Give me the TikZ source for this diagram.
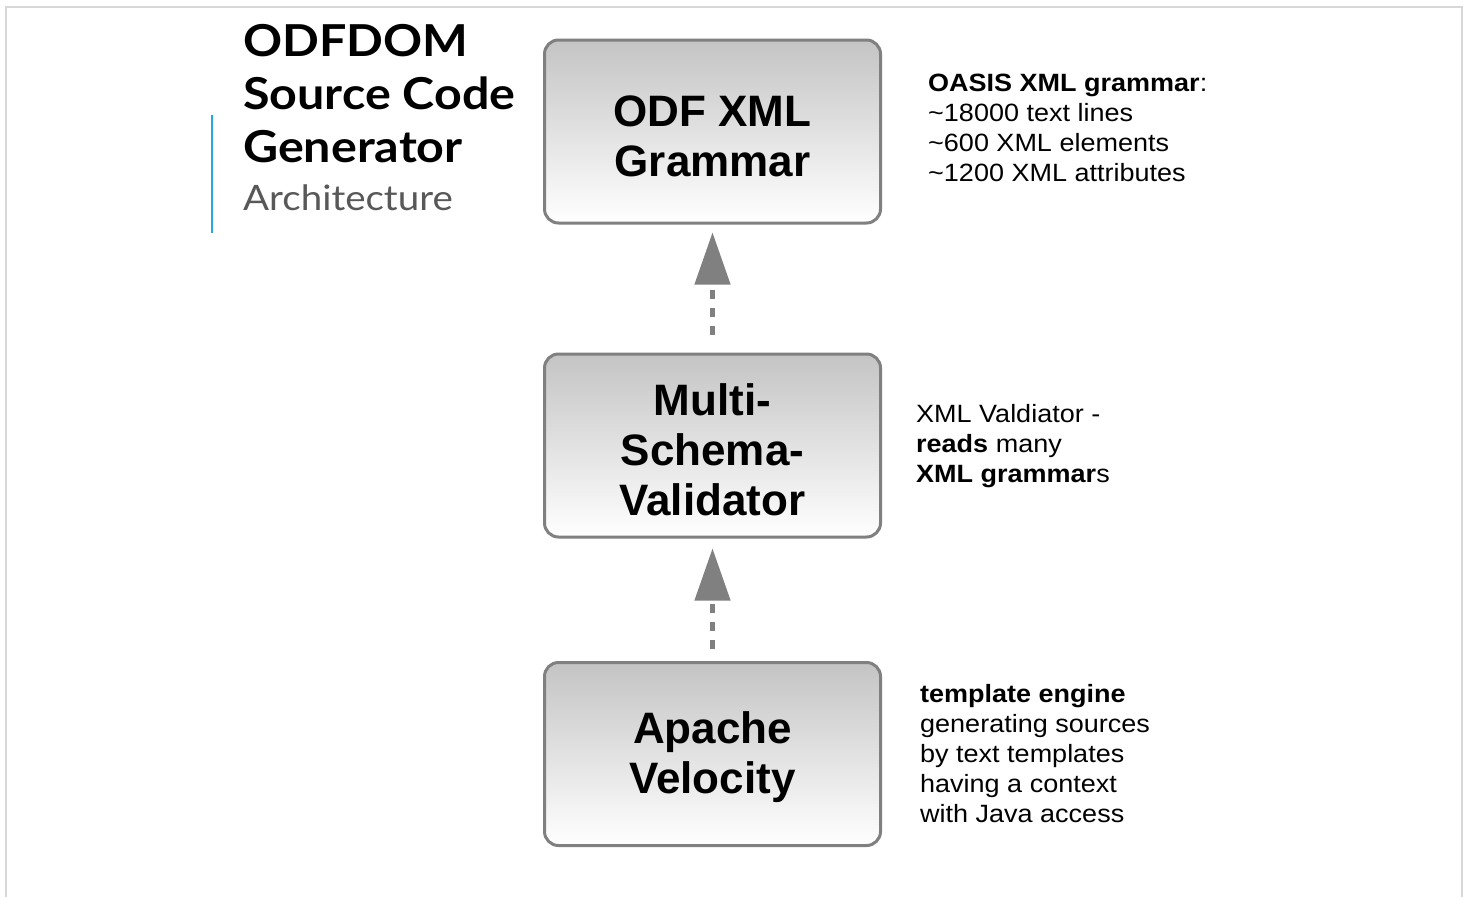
\documentclass[tikz,border=0pt]{standalone}
\usepackage{fontspec}
\setmainfont{Liberation Sans}
\newfontfamily\latowide{Lato}[FakeStretch=1.1]
\newfontfamily\notefont{Liberation Sans}[FakeStretch=1.08]
\usetikzlibrary{arrows.meta}
\definecolor{framegray}{RGB}{215,215,215}
\definecolor{accentblue}{RGB}{40,168,224}
\definecolor{subgray}{RGB}{88,88,88}
\definecolor{boxborder}{RGB}{128,128,128}
\definecolor{boxtop}{RGB}{196,196,196}
\definecolor{arrowgray}{RGB}{128,128,128}
\begin{document}
\begin{tikzpicture}[x=1pt,y=-1pt,
  box/.style={draw=boxborder, line width=3pt, rounded corners=14pt, top color=boxtop, bottom color=white,
    minimum width=336pt, minimum height=183pt, inner sep=0pt, align=center,
    font=\fontsize{44}{50}\selectfont\bfseries},
  note/.style={anchor=north west, inner sep=0pt, align=left, font=\notefont\fontsize{25}{30}\selectfont},
  dep/.style={draw=arrowgray, line width=4.5pt, dash pattern=on 9pt off 9pt,
    -{Triangle[width=35pt,length=52pt]}}
]
\useasboundingbox (0,0) rectangle (1469,897);
\fill[white] (0,0) rectangle (1469,897);
% slide frame
\draw[framegray, line width=1.5pt] (6,897) -- (6,7) -- (1462,7) -- (1462,897);
% accent line
\draw[accentblue, line width=2pt] (212,115) -- (212,233);
% title
\node[anchor=north west, inner sep=0pt, align=left, font=\latowide\bfseries\fontsize{44}{53}\selectfont] (title) at (243,24.5) {ODFDOM\\Source Code\\Generator};
\node[anchor=base west, inner sep=0pt, font=\latowide\fontsize{35}{40}\selectfont, text=subgray] (subtitle) at (243,210) {Architecture};
% boxes
\node[box] (b1) at (712.5,131.5) {\rule{0pt}{39.5pt}ODF XML\\Grammar};
\node[box] (b2) at (712.5,445.5) {\rule{0pt}{39.5pt}Multi-\\Schema-\\Validator};
\node[box] (b3) at (712.5,754) {\rule{0pt}{39pt}Apache\\Velocity};
% connectors
\draw[dep, shorten <=18pt, shorten >=8pt] (b2) -- (b1);
\draw[dep, shorten <=12pt, shorten >=10pt] (b3) -- (b2);
% notes
\node[note] (n1) at (928,74) {\textbf{OASIS XML grammar}:\\\textasciitilde18000 text lines\\\textasciitilde600 XML elements\\\textasciitilde1200 XML attributes};
\node[note] (n2) at (916,404) {XML Valdiator -\\\textbf{reads} many\\\textbf{XML grammar}s};
\node[note] (n3) at (920,684) {\textbf{template engine}\\generating sources\\by text templates\\having a context\\with Java access};
\end{tikzpicture}
\end{document}
